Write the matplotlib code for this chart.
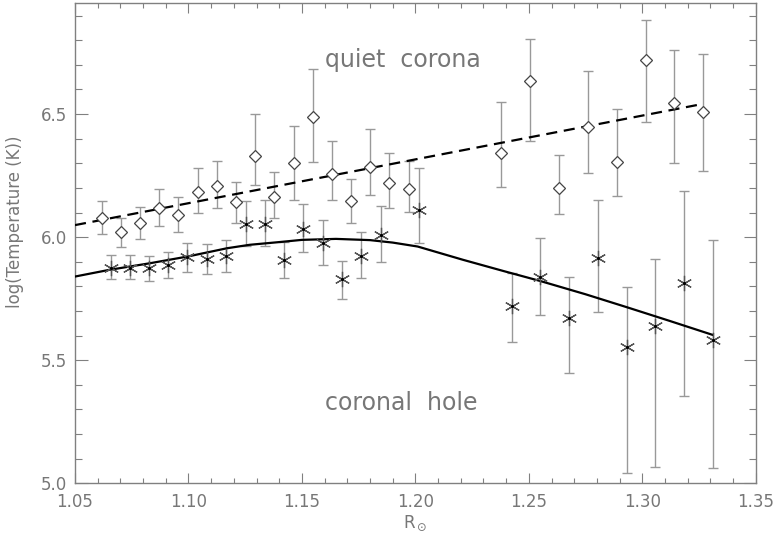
import numpy as np
import matplotlib
matplotlib.use("Agg")
import matplotlib.pyplot as plt

# quiet corona: radius, log T, lower / upper ends of error bar
qc_r = [1.0618, 1.0701, 1.0786, 1.0872, 1.0955, 1.1041, 1.1124, 1.1210, 1.1293,
        1.1379, 1.1463, 1.1548, 1.1632, 1.1717, 1.1801, 1.1886, 1.1972, 1.2377,
        1.2505, 1.2633, 1.2760, 1.2887, 1.3015, 1.3141, 1.3266]
qc_t = [6.077, 6.020, 6.057, 6.118, 6.091, 6.185, 6.209, 6.141, 6.330,
        6.165, 6.301, 6.490, 6.257, 6.145, 6.287, 6.220, 6.196, 6.341,
        6.635, 6.199, 6.446, 6.307, 6.721, 6.545, 6.507]
qc_lo = [6.012, 5.962, 5.992, 6.046, 6.023, 6.100, 6.118, 6.059, 6.213,
         6.077, 6.149, 6.307, 6.152, 6.059, 6.172, 6.118, 6.102, 6.202,
         6.391, 6.093, 6.260, 6.168, 6.467, 6.301, 6.270]
qc_hi = [6.148, 6.077, 6.122, 6.195, 6.165, 6.280, 6.311, 6.226, 6.500,
         6.263, 6.452, 6.683, 6.389, 6.237, 6.440, 6.341, 6.311, 6.549,
         6.805, 6.332, 6.677, 6.520, 6.881, 6.761, 6.745]

# coronal hole
ch_r = [1.0659, 1.0742, 1.0828, 1.0911, 1.0995, 1.1081, 1.1166, 1.1254, 1.1338,
        1.1422, 1.1506, 1.1592, 1.1678, 1.1761, 1.1848, 1.2018, 1.2424, 1.2551,
        1.2678, 1.2804, 1.2932, 1.3058, 1.3185, 1.3313]
ch_t = [5.876, 5.876, 5.874, 5.887, 5.919, 5.912, 5.924, 6.054, 6.054,
        5.908, 6.033, 5.976, 5.829, 5.925, 6.007, 6.111, 5.721, 5.840,
        5.671, 5.915, 5.555, 5.641, 5.813, 5.583]
ch_lo = [5.829, 5.829, 5.822, 5.833, 5.859, 5.851, 5.858, 5.966, 5.966,
         5.833, 5.939, 5.885, 5.750, 5.833, 5.898, 5.976, 5.573, 5.684,
         5.447, 5.694, 5.041, 5.068, 5.355, 5.061]
ch_hi = [5.928, 5.928, 5.925, 5.941, 5.978, 5.973, 5.989, 6.145, 6.149,
         5.982, 6.134, 6.068, 5.905, 6.020, 6.127, 6.280, 5.854, 5.998,
         5.840, 6.152, 5.799, 5.912, 6.188, 5.989]

# model curves
qc_model_r = [1.05, 1.3265]
qc_model_t = [6.049, 6.541]
ch_model_r = [1.05, 1.065, 1.083, 1.100, 1.117, 1.127, 1.140, 1.150, 1.165, 1.180,
              1.190, 1.201, 1.221, 1.239, 1.255, 1.275, 1.293, 1.312, 1.331]
ch_model_t = [5.840, 5.867, 5.894, 5.922, 5.955, 5.969, 5.980, 5.989, 5.993, 5.988,
              5.978, 5.962, 5.908, 5.862, 5.822, 5.768, 5.716, 5.660, 5.603]

gray = '#808080'
ebar = '#999999'
txt = '#777777'

fig = plt.figure(figsize=(7.74, 5.35), dpi=100)
ax = fig.add_axes([0.0969, 0.0966, 0.8795, 0.8972])


def yerr(t, lo, hi):
    t, lo, hi = map(np.asarray, (t, lo, hi))
    return np.vstack([t - lo, hi - t])


ax.errorbar(qc_r, qc_t, yerr=yerr(qc_t, qc_lo, qc_hi), fmt='none',
            ecolor=ebar, elinewidth=1.0, capsize=3.6, capthick=1.0, zorder=2)
ax.errorbar(ch_r, ch_t, yerr=yerr(ch_t, ch_lo, ch_hi), fmt='none',
            ecolor=ebar, elinewidth=1.0, capsize=3.6, capthick=1.0, zorder=2)

ax.plot(qc_model_r, qc_model_t, color='black', lw=1.6,
        linestyle=(0, (5, 3)), zorder=3)
ax.plot(ch_model_r, ch_model_t, color='black', lw=1.6, zorder=3)

ax.plot(qc_r, qc_t, linestyle='none', marker='D', ms=6.3, mfc='white',
        mec='#444444', mew=0.9, zorder=4)
ax.plot(ch_r, ch_t, linestyle='none', marker=(6, 2, 0), ms=11,
        mec='#555555', mew=0.9, zorder=4)
ax.plot(ch_r, ch_t, linestyle='none', marker='.', ms=2.5, color='black', zorder=5)

ax.text(1.1943, 6.72, 'quiet  corona', ha='center', va='center',
        fontsize=17, color=txt)
ax.text(1.1939, 5.325, 'coronal  hole', ha='center', va='center',
        fontsize=17, color=txt)

ax.set_xlim(1.05, 1.35)
ax.set_ylim(5.0, 6.95)
ax.set_xticks(np.arange(1.05, 1.351, 0.05))
ax.set_xticklabels(['1.05', '1.10', '1.15', '1.20', '1.25', '1.30', '1.35'])
ax.set_xticks(np.arange(1.05, 1.351, 0.01), minor=True)
ax.set_yticks([5.0, 5.5, 6.0, 6.5])
ax.set_yticklabels(['5.0', '5.5', '6.0', '6.5'])
ax.set_yticks(np.arange(5.0, 6.951, 0.1), minor=True)

ax.tick_params(axis='both', which='both', direction='in', top=True, right=True,
               color=gray, labelcolor=txt, labelsize=12, width=0.8)
ax.tick_params(axis='x', which='major', length=7, pad=7)
ax.tick_params(axis='x', which='minor', length=3.6)
ax.tick_params(axis='y', which='major', length=9, pad=6)
ax.tick_params(axis='y', which='minor', length=5)
ax.tick_params(right=True, labelright=False, top=True, labeltop=False)

for s in ax.spines.values():
    s.set_color(gray)
    s.set_linewidth(1.0)

ax.set_xlabel(r'R$_\odot$', color=txt, fontsize=12, labelpad=2)
ax.set_ylabel('log(Temperature (K))', color=txt, fontsize=12)
ax.yaxis.set_label_coords(-0.075, 0.544)

fig.savefig('out.png', dpi=100)
